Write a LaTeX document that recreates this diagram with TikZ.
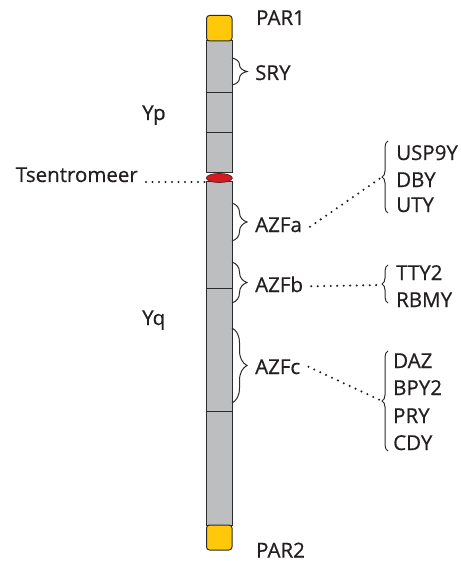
\documentclass[tikz,border=0pt]{standalone}
\usepackage{fontspec}
\newfontfamily\lblfont{Open Sans}[UprightFeatures={FakeBold=0.6}]
\usetikzlibrary{decorations.pathreplacing}
\definecolor{chrgray}{HTML}{BCBEC0}
\definecolor{paryel}{HTML}{FFC80B}
\definecolor{cenred}{HTML}{D71920}
\definecolor{txt}{HTML}{231F20}
\definecolor{edge}{HTML}{2B2B2B}
\begin{document}
\begin{tikzpicture}[x=1pt,y=-1pt,
  lbl/.style={anchor=base west, inner sep=0pt, text=txt, font=\lblfont\fontsize{20.5}{24}\selectfont},
  seg/.style={draw=edge, line width=1pt, fill=chrgray},
  parseg/.style={draw=edge, line width=1pt, fill=paryel, rounded corners=3pt},
  chrbrace/.style={draw=edge, line width=1pt, decorate, decoration={brace, amplitude=15pt}},
  genebrace/.style={draw=edge, line width=1pt, decorate, decoration={brace, amplitude=6pt}},
  dots/.style={draw=txt, line width=2.3pt, line cap=round, dash pattern=on 0pt off 6.5pt}]
\path[use as bounding box] (0,0) rectangle (460,561);
% chromosome upper arm
\draw[seg] (206.5,41) rectangle (232,173);
\draw[edge, line width=1pt] (206.5,92.5) -- (232,92.5) (206.5,133) -- (232,133);
\draw[parseg] (206.5,15.5) rectangle (232,41);
% lower arm
\draw[seg] (206.5,182) rectangle (232,525);
\draw[edge, line width=1pt] (206.5,288) -- (232,288) (206.5,411) -- (232,411);
\draw[parseg] (206.5,525) rectangle (232,550);
% centromere
\draw[draw=edge!70!cenred, line width=0.8pt, fill=cenred] (219.3,178) ellipse [x radius=13pt, y radius=4.5pt];
% labels
\node[lbl] (par1) at (256,25) {PAR1};
\node[lbl] (par2) at (256,557.5) {PAR2};
\node[lbl] (sry) at (255,80) {SRY};
\node[lbl] (yp) at (142,120) {Yp};
\node[lbl] (yq) at (142,325) {Yq};
\node[lbl, anchor=base east] (tsen) at (138,182) {Tsentromeer};
\node[lbl] (azfa) at (255,232) {AZFa};
\node[lbl] (azfb) at (255,292) {AZFb};
\node[lbl] (azfc) at (255,374) {AZFc};
% gene lists
\node[lbl] (usp) at (396,160) {USP9Y};
\node[lbl] (dby) at (396,187) {DBY};
\node[lbl] (uty) at (396,212) {UTY};
\node[lbl] (tty) at (396,280) {TTY2};
\node[lbl] (rbmy) at (396,307) {RBMY};
\node[lbl] (daz) at (393,368) {DAZ};
\node[lbl] (bpy) at (393,395) {BPY2};
\node[lbl] (pry) at (393,423) {PRY};
\node[lbl] (cdy) at (393,450) {CDY};
% chromosome braces
\draw[chrbrace] (232,58) -- (232,85);
\draw[chrbrace] (232,203) -- (232,241);
\draw[chrbrace] (232,262) -- (232,303);
\draw[chrbrace] (232,328) -- (232,403);
% gene braces
\draw[genebrace] (388,213) -- (388,141);
\draw[genebrace] (388,303) -- (388,265);
\draw[genebrace] (388,451) -- (388,351);
\coordinate (ctip) at (205,182);
\coordinate (atip) at (382,177);
\coordinate (btip) at (382,285);
\coordinate (ctipc) at (382,401);
% dotted connectors
\draw[dots] ([xshift=8pt]tsen.base east) -- (ctip);
\draw[dots] ([xshift=8pt,yshift=-2pt]azfa.east) -- (atip);
\draw[dots] ([xshift=8pt,yshift=-2pt]azfb.east) -- (btip);
\draw[dots] ([xshift=8pt]azfc.east) -- (ctipc);
\end{tikzpicture}
\end{document}
